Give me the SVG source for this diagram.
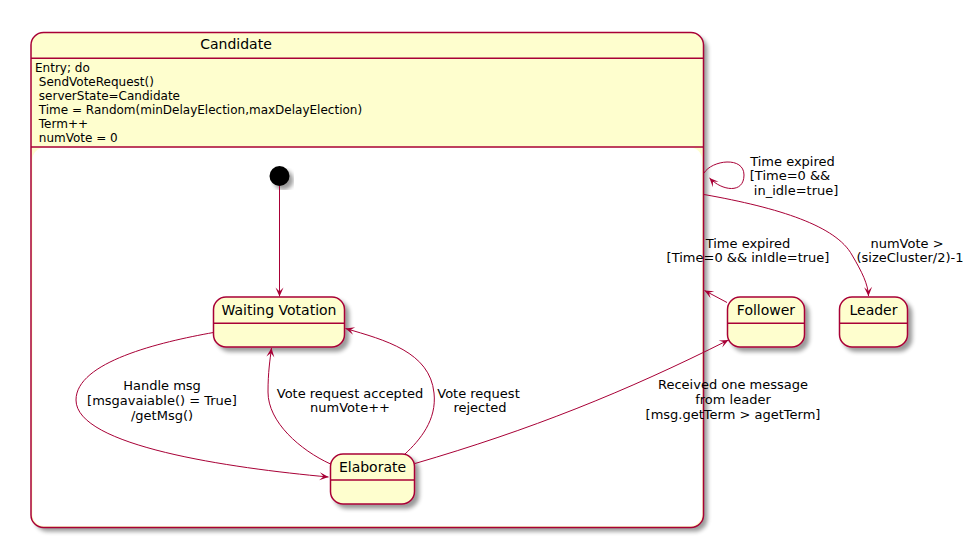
<svg xmlns="http://www.w3.org/2000/svg" width="973" height="538" viewBox="0 0 973 538">
  <style>
    .st { fill: #FEFECE; stroke: #A80036; stroke-width: 1.5; }
    .sep { stroke: #A80036; stroke-width: 1.5; fill: none; }
    .edge { fill: none; stroke: #A80036; stroke-width: 1; marker-end: url(#arr); }
    text { font-family: "DejaVu Sans", "Liberation Sans", sans-serif; fill: #000000; }
    .name { font-size: 14px; text-anchor: middle; }
    .desc { font-size: 12px; }
    .lbl { font-size: 13px; text-anchor: middle; }
  </style>
  <defs>
    <filter id="shadow" x="-10%" y="-10%" width="130%" height="130%">
      <feGaussianBlur in="SourceAlpha" stdDeviation="2"/>
      <feOffset dx="4" dy="4" result="off"/>
      <feComponentTransfer><feFuncA type="linear" slope="0.4"/></feComponentTransfer>
      <feMerge><feMergeNode/><feMergeNode in="SourceGraphic"/></feMerge>
    </filter>
    <marker id="arr" viewBox="-10 -5 11 10" refX="0" refY="0" markerWidth="11" markerHeight="10" markerUnits="userSpaceOnUse" orient="auto">
      <path d="M0,0 L-9,-4 L-5,0 L-9,4 Z" fill="#A80036"/>
    </marker>
  </defs>
  <rect width="973" height="538" fill="#FFFFFF"/>

  <!-- composite state -->
  <g id="Candidate">
    <rect x="31" y="32.5" width="672.5" height="495" rx="12.5" fill="#FEFECE" filter="url(#shadow)"/>
    <rect x="32.5" y="147.5" width="669.5" height="378.5" rx="12" fill="#FFFFFF"/>
    <rect x="31" y="32.5" width="672.5" height="495" rx="12.5" fill="none" stroke="#A80036" stroke-width="1.5"/>
    <line class="sep" x1="31" y1="58.3" x2="703.5" y2="58.3"/>
    <line class="sep" x1="31" y1="147" x2="703.5" y2="147"/>
    <text class="name" x="236" y="48.5">Candidate</text>
    <text class="desc" x="35" y="71.7">Entry; do</text>
    <text class="desc" x="35" y="85.7" xml:space="preserve"> SendVoteRequest()</text>
    <text class="desc" x="35" y="99.7" xml:space="preserve"> serverState=Candidate</text>
    <text class="desc" x="35" y="113.7" xml:space="preserve"> Time = Random(minDelayElection,maxDelayElection)</text>
    <text class="desc" x="35" y="127.7" xml:space="preserve"> Term++</text>
    <text class="desc" x="35" y="141.7" xml:space="preserve"> numVote = 0</text>
  </g>

  <g id="start">
    <circle cx="279.5" cy="176" r="10" fill="#000000" filter="url(#shadow)"/>
  </g>

  <g id="WaitingVotation">
    <rect class="st" x="213.5" y="297" width="131" height="50" rx="12.5" filter="url(#shadow)"/>
    <line class="sep" x1="213.5" y1="323.3" x2="344.5" y2="323.3"/>
    <text class="name" x="279" y="315">Waiting Votation</text>
  </g>

  <g id="Elaborate">
    <rect class="st" x="330.5" y="454" width="84" height="50" rx="12.5" filter="url(#shadow)"/>
    <line class="sep" x1="330.5" y1="480" x2="414.5" y2="480"/>
    <text class="name" x="372.5" y="471.7">Elaborate</text>
  </g>

  <g id="Follower">
    <rect class="st" x="727.5" y="297" width="77" height="50" rx="12.5" filter="url(#shadow)"/>
    <line class="sep" x1="727.5" y1="323.3" x2="804.5" y2="323.3"/>
    <text class="name" x="766" y="315">Follower</text>
  </g>

  <g id="Leader">
    <rect class="st" x="839.5" y="297" width="68" height="50" rx="12.5" filter="url(#shadow)"/>
    <line class="sep" x1="839.5" y1="323.3" x2="907.5" y2="323.3"/>
    <text class="name" x="873.5" y="315">Leader</text>
  </g>

  <g id="connectors">
    <path class="edge" d="M279.5,186 L279.5,296.5"/>

    <path class="edge" d="M213.5,332.5 C160,342 76,362 76,400 C76,446 230,468 328.5,477"/>
    <text class="lbl" x="162" y="390">Handle msg</text>
    <text class="lbl" x="162" y="405">[msgavaiable() = True]</text>
    <text class="lbl" x="162" y="420">/getMsg()</text>

    <path class="edge" d="M330.5,464 C300,450 268,422 268,392 C268,372 270,360 271.5,348"/>
    <text class="lbl" x="350" y="397.5">Vote request accepted</text>
    <text class="lbl" x="350" y="412">numVote++</text>

    <path class="edge" d="M405,454 C420,440 437,420 434,393 C430,352 385,340 345.5,328.5"/>
    <text class="lbl" x="478.5" y="397.5">Vote request</text>
    <text class="lbl" x="480" y="412">rejected</text>

    <path class="edge" d="M415,463.5 C530,430 625,392 728.5,340"/>
    <text class="lbl" x="733" y="388.5">Received one message</text>
    <text class="lbl" x="733" y="403.5">from leader</text>
    <text class="lbl" x="733" y="418.5">[msg.getTerm &gt; agetTerm]</text>

    <path class="edge" d="M727,302.5 L704.5,290.5"/>
    <text class="lbl" x="748" y="247.5">Time expired</text>
    <text class="lbl" x="748" y="262">[Time=0 &amp;&amp; inIdle=true]</text>

    <path class="edge" d="M704,173 C712,160 744,156 744,175 C744,194 722,191 709.5,178"/>
    <text class="lbl" x="792.5" y="165.5">Time expired</text>
    <text class="lbl" x="790" y="180">[Time=0 &amp;&amp;</text>
    <text class="lbl" x="794" y="195" xml:space="preserve"> in_idle=true]</text>

    <path class="edge" d="M704,194.5 C780,208 836,226 852,255 C862,272 868,284 868.5,296"/>
    <text class="lbl" x="907" y="247.5">numVote &gt;</text>
    <text class="lbl" x="910" y="262">(sizeCluster/2)-1</text>
  </g>
</svg>
